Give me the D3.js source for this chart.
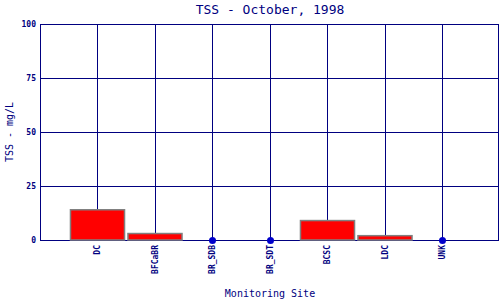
<!DOCTYPE html>
<html>
<head>
<meta charset="utf-8">
<script src="https://cdn.jsdelivr.net/npm/d3@7"></script>
<style>
  body { margin: 0; background: #fff; }
  text { font-family: "DejaVu Sans Mono", monospace; fill: #000080; }
</style>
</head>
<body>
<script>
// chart data
const sites = ["DC", "BFCaBR", "BR_SDB", "BR_SDT", "BCSC", "LDC", "UNK"];
const tss = [14, 3, 0, 0, 9, 2, 0];
const yTicks = [0, 25, 50, 75, 100];

const W = 500, H = 300;
const plot = {left: 40, right: 500, top: 24, bottom: 240};
const navy = "#000080";

const svg = d3.select("body").append("svg")
  .attr("width", W)
  .attr("height", H);

// x: one slot per site, with half a slot of padding each side
const x = d3.scaleLinear()
  .domain([0, sites.length + 1])
  .range([plot.left, plot.right]);
const step = x(1) - x(0);

const y = d3.scaleLinear()
  .domain([0, 100])
  .range([plot.bottom, plot.top]);

const px = v => Math.floor(v) + 0.5; // crisp 1px lines

// horizontal grid lines
svg.append("g")
  .selectAll("line")
  .data(yTicks)
  .join("line")
    .attr("x1", plot.left)
    .attr("x2", plot.right - 1)
    .attr("y1", d => px(y(d)))
    .attr("y2", d => px(y(d)))
    .attr("stroke", navy);

// vertical grid lines at each site
svg.append("g")
  .selectAll("line")
  .data(sites)
  .join("line")
    .attr("x1", (d, i) => px(x(i + 1)))
    .attr("x2", (d, i) => px(x(i + 1)))
    .attr("y1", plot.top)
    .attr("y2", plot.bottom)
    .attr("stroke", navy);

// plot frame (left and right edges)
svg.append("line")
  .attr("x1", px(plot.left)).attr("x2", px(plot.left))
  .attr("y1", plot.top).attr("y2", plot.bottom + 1)
  .attr("stroke", navy);
svg.append("line")
  .attr("x1", px(plot.right - 2)).attr("x2", px(plot.right - 2))
  .attr("y1", plot.top).attr("y2", plot.bottom + 1)
  .attr("stroke", navy);

// bars for non-zero values
const barW = step * 0.94;
svg.append("g")
  .selectAll("rect")
  .data(sites.map((s, i) => ({site: s, i: i, v: tss[i]})).filter(d => d.v > 0))
  .join("rect")
    .attr("x", d => x(d.i + 1) - barW / 2)
    .attr("y", d => y(d.v))
    .attr("width", barW)
    .attr("height", d => y(0) - y(d.v))
    .attr("fill", "#ff0000")
    .attr("stroke", "#808080")
    .attr("stroke-width", 1.5);

// dots for zero values
svg.append("g")
  .selectAll("circle")
  .data(sites.map((s, i) => ({site: s, i: i, v: tss[i]})).filter(d => d.v === 0))
  .join("circle")
    .attr("cx", d => px(x(d.i + 1)))
    .attr("cy", d => px(y(0)))
    .attr("r", 3.5)
    .attr("fill", "#0000cc");

// y tick labels
svg.append("g")
  .selectAll("text")
  .data(yTicks)
  .join("text")
    .attr("x", 36)
    .attr("y", d => y(d))
    .attr("dy", "0.35em")
    .attr("text-anchor", "end")
    .style("font-size", "8px")
    .style("font-weight", "bold")
    .text(d => d);

// x tick labels, rotated
svg.append("g")
  .selectAll("text")
  .data(sites)
  .join("text")
    .attr("transform", (d, i) => `translate(${x(i + 1)},245) rotate(-90)`)
    .attr("dy", "0.35em")
    .attr("text-anchor", "end")
    .style("font-size", "8px")
    .style("font-weight", "bold")
    .text(d => d);

// title
svg.append("text")
  .attr("x", (plot.left + plot.right) / 2)
  .attr("y", 14)
  .attr("text-anchor", "middle")
  .style("font-size", "13px")
  .text("TSS - October, 1998");

// axis labels
svg.append("text")
  .attr("x", (plot.left + plot.right) / 2)
  .attr("y", 297)
  .attr("text-anchor", "middle")
  .style("font-size", "10px")
  .text("Monitoring Site");

svg.append("text")
  .attr("transform", `translate(13,${(plot.top + plot.bottom) / 2}) rotate(-90)`)
  .attr("text-anchor", "middle")
  .style("font-size", "10px")
  .text("TSS - mg/L");
</script>
</body>
</html>
